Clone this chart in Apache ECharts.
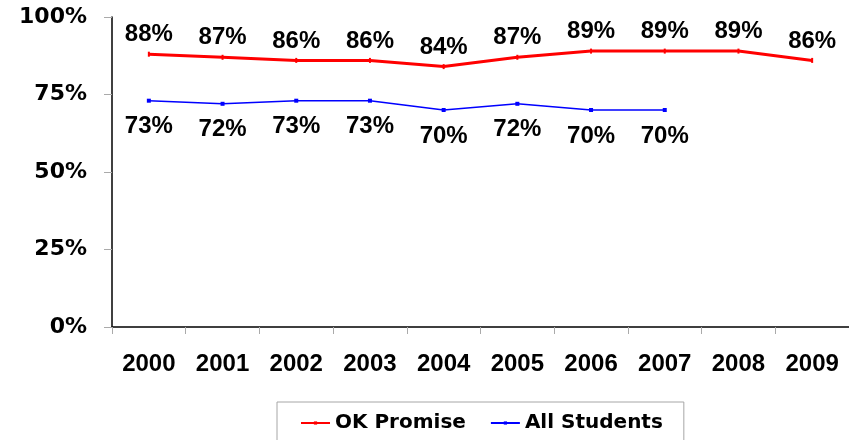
<!DOCTYPE html>
<html>
<head>
<meta charset="utf-8">
<script src="https://cdn.jsdelivr.net/npm/echarts@6/dist/echarts.min.js"></script>
<style>
html, body { margin: 0; padding: 0; background: #fff; }
#myDiv { width: 849px; height: 440px; }
</style>
</head>
<body>
<div id="myDiv"></div>
<script>
// chart data
const years = ['2000', '2001', '2002', '2003', '2004', '2005', '2006', '2007', '2008', '2009'];
const okPromise = [88, 87, 86, 86, 84, 87, 89, 89, 89, 86];
const allStudents = [73, 72, 73, 73, 70, 72, 70, 70, null, null];
const yTicks = [0, 25, 50, 75, 100];

let myChart = echarts.init(document.getElementById('myDiv'));
let option = {
  animation: false,
  grid: { left: 112, right: 0, top: 17, bottom: 113 },
  legend: {
    left: 277,
    top: 402,
    padding: [11, 21, 11, 23],
    itemGap: 24,
    itemWidth: 29,
    itemHeight: 4,
    borderColor: '#a6a6a6',
    borderWidth: 1,
    textStyle: { fontFamily: 'DejaVu Sans', fontWeight: 'bold', fontSize: 20, color: '#000' },
    data: ['OK Promise', 'All Students']
  },
  xAxis: {
    type: 'category',
    data: years,
    axisLine: { lineStyle: { color: '#000', width: 1.5 } },
    axisTick: { show: true, length: 7, lineStyle: { color: '#aaa' } },
    axisLabel: { margin: 25, color: '#000', fontFamily: 'Liberation Sans', fontWeight: 'bold', fontSize: 24 }
  },
  yAxis: {
    type: 'value',
    min: yTicks[0],
    max: yTicks[yTicks.length - 1],
    interval: 25,
    splitLine: { show: false },
    axisLine: { show: true, lineStyle: { color: '#000', width: 1.5 } },
    axisTick: { show: true, length: 8, lineStyle: { color: '#aaa' } },
    axisLabel: {
      margin: 25, color: '#000', fontFamily: 'DejaVu Sans', fontWeight: 'bold', fontSize: 22,
      formatter: v => v + '%'
    }
  },
  series: [
    {
      name: 'OK Promise',
      type: 'line',
      data: okPromise,
      symbol: 'rect',
      symbolSize: [2, 5],
      itemStyle: { color: '#ff0000' },
      lineStyle: { color: '#ff0000', width: 3 },
      label: {
        show: true, position: 'top', distance: 5, formatter: '{c}%',
        color: '#000', fontFamily: 'Liberation Sans', fontWeight: 'bold', fontSize: 24
      }
    },
    {
      name: 'All Students',
      type: 'line',
      data: allStudents,
      symbol: 'rect',
      symbolSize: 4,
      itemStyle: { color: '#0000ff' },
      lineStyle: { color: '#0000ff', width: 1.5 },
      label: {
        show: true, position: 'bottom', distance: 12, formatter: '{c}%',
        color: '#000', fontFamily: 'Liberation Sans', fontWeight: 'bold', fontSize: 24
      }
    }
  ]
};
option && myChart.setOption(option);
</script>
</body>
</html>
